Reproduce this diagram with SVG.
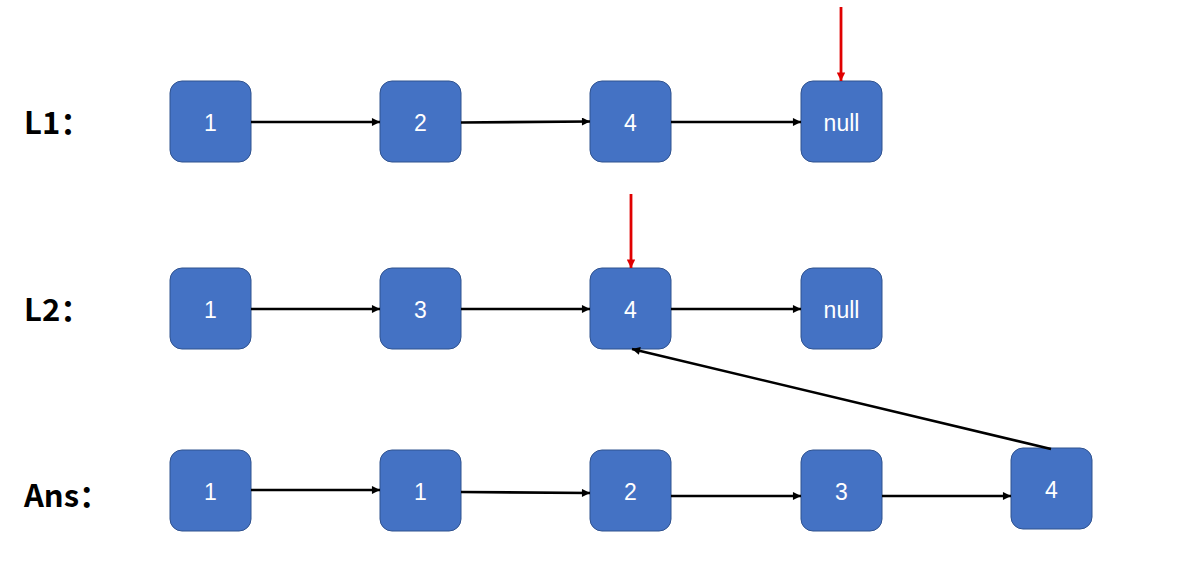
<svg xmlns="http://www.w3.org/2000/svg" width="1177" height="571" viewBox="0 0 1177 571">
  <style>
    .node rect { fill: #4472C4; stroke: #2F528F; stroke-width: 1; }
    .node text { fill: #ffffff; font-family: "Liberation Sans", Arial, sans-serif; font-size: 23px; text-anchor: middle; dominant-baseline: central; }
    .label { fill: #000000; font-family: "Noto Sans CJK SC", "Noto Sans", sans-serif; font-weight: bold; font-size: 31px; }
    .link { stroke: #000000; stroke-width: 2.6; fill: none; marker-end: url(#arrow); }
    .ptr { stroke: #E00000; stroke-width: 2.8; fill: none; marker-end: url(#arrowRed); }
  </style>
  <defs>
    <marker id="arrow" viewBox="0 0 10 10" refX="10" refY="5" markerWidth="3.6" markerHeight="3.1" orient="auto" markerUnits="strokeWidth">
      <path d="M0,0 L10,5 L0,10 Z" fill="#000000"/>
    </marker>
    <marker id="arrowRed" viewBox="0 0 10 10" refX="10" refY="5" markerWidth="3.4" markerHeight="3" orient="auto" markerUnits="strokeWidth">
      <path d="M0,0 L10,5 L0,10 Z" fill="#E00000"/>
    </marker>
  </defs>
  <rect width="1177" height="571" fill="#ffffff"/>

  <!-- row labels -->
  <text class="label" x="24" y="134">L1：</text>
  <text class="label" x="24" y="321">L2：</text>
  <text class="label" x="24" y="507">Ans：</text>

  <!-- list L1 -->
  <g id="l1-n1" class="node"><rect x="170" y="81" width="81" height="81" rx="12"/><text x="210.5" y="122.5">1</text></g>
  <g id="l1-n2" class="node"><rect x="380" y="81" width="81" height="81" rx="12"/><text x="420.5" y="122.5">2</text></g>
  <g id="l1-n3" class="node"><rect x="590" y="81" width="81" height="81" rx="12"/><text x="630.5" y="122.5">4</text></g>
  <g id="l1-n4" class="node"><rect x="801" y="81" width="81" height="81" rx="12"/><text x="841.5" y="122.5">null</text></g>

  <!-- list L2 -->
  <g id="l2-n1" class="node"><rect x="170" y="268" width="81" height="81" rx="12"/><text x="210.5" y="309.5">1</text></g>
  <g id="l2-n2" class="node"><rect x="380" y="268" width="81" height="81" rx="12"/><text x="420.5" y="309.5">3</text></g>
  <g id="l2-n3" class="node"><rect x="590" y="268" width="81" height="81" rx="12"/><text x="630.5" y="309.5">4</text></g>
  <g id="l2-n4" class="node"><rect x="801" y="268" width="81" height="81" rx="12"/><text x="841.5" y="309.5">null</text></g>

  <!-- merged list Ans -->
  <g id="ans-n1" class="node"><rect x="170" y="450" width="81" height="81" rx="12"/><text x="210.5" y="491.5">1</text></g>
  <g id="ans-n2" class="node"><rect x="380" y="450" width="81" height="81" rx="12"/><text x="420.5" y="491.5">1</text></g>
  <g id="ans-n3" class="node"><rect x="590" y="450" width="81" height="81" rx="12"/><text x="630.5" y="491.5">2</text></g>
  <g id="ans-n4" class="node"><rect x="801" y="450" width="81" height="81" rx="12"/><text x="841.5" y="491.5">3</text></g>
  <g id="ans-n5" class="node"><rect x="1011" y="448" width="81" height="81" rx="12"/><text x="1051.5" y="489.5">4</text></g>

  <!-- connectors -->
  <g id="connectors">
    <line class="link" x1="251" y1="122" x2="380" y2="122"/>
    <line class="link" x1="461" y1="122.5" x2="590" y2="121.5"/>
    <line class="link" x1="671" y1="122" x2="801" y2="122"/>

    <line class="link" x1="251" y1="309" x2="380" y2="309"/>
    <line class="link" x1="461" y1="309" x2="590" y2="309"/>
    <line class="link" x1="671" y1="309" x2="801" y2="309"/>

    <line class="link" x1="251" y1="490" x2="380" y2="490"/>
    <line class="link" x1="461" y1="492" x2="590" y2="493"/>
    <line class="link" x1="671" y1="496" x2="801" y2="496"/>
    <line class="link" x1="882" y1="496" x2="1011" y2="496"/>

    <line class="link" x1="1051" y1="449" x2="632" y2="349"/>

    <line class="ptr" x1="841" y1="7" x2="841" y2="81"/>
    <line class="ptr" x1="631" y1="194" x2="631" y2="268"/>
  </g>
</svg>
